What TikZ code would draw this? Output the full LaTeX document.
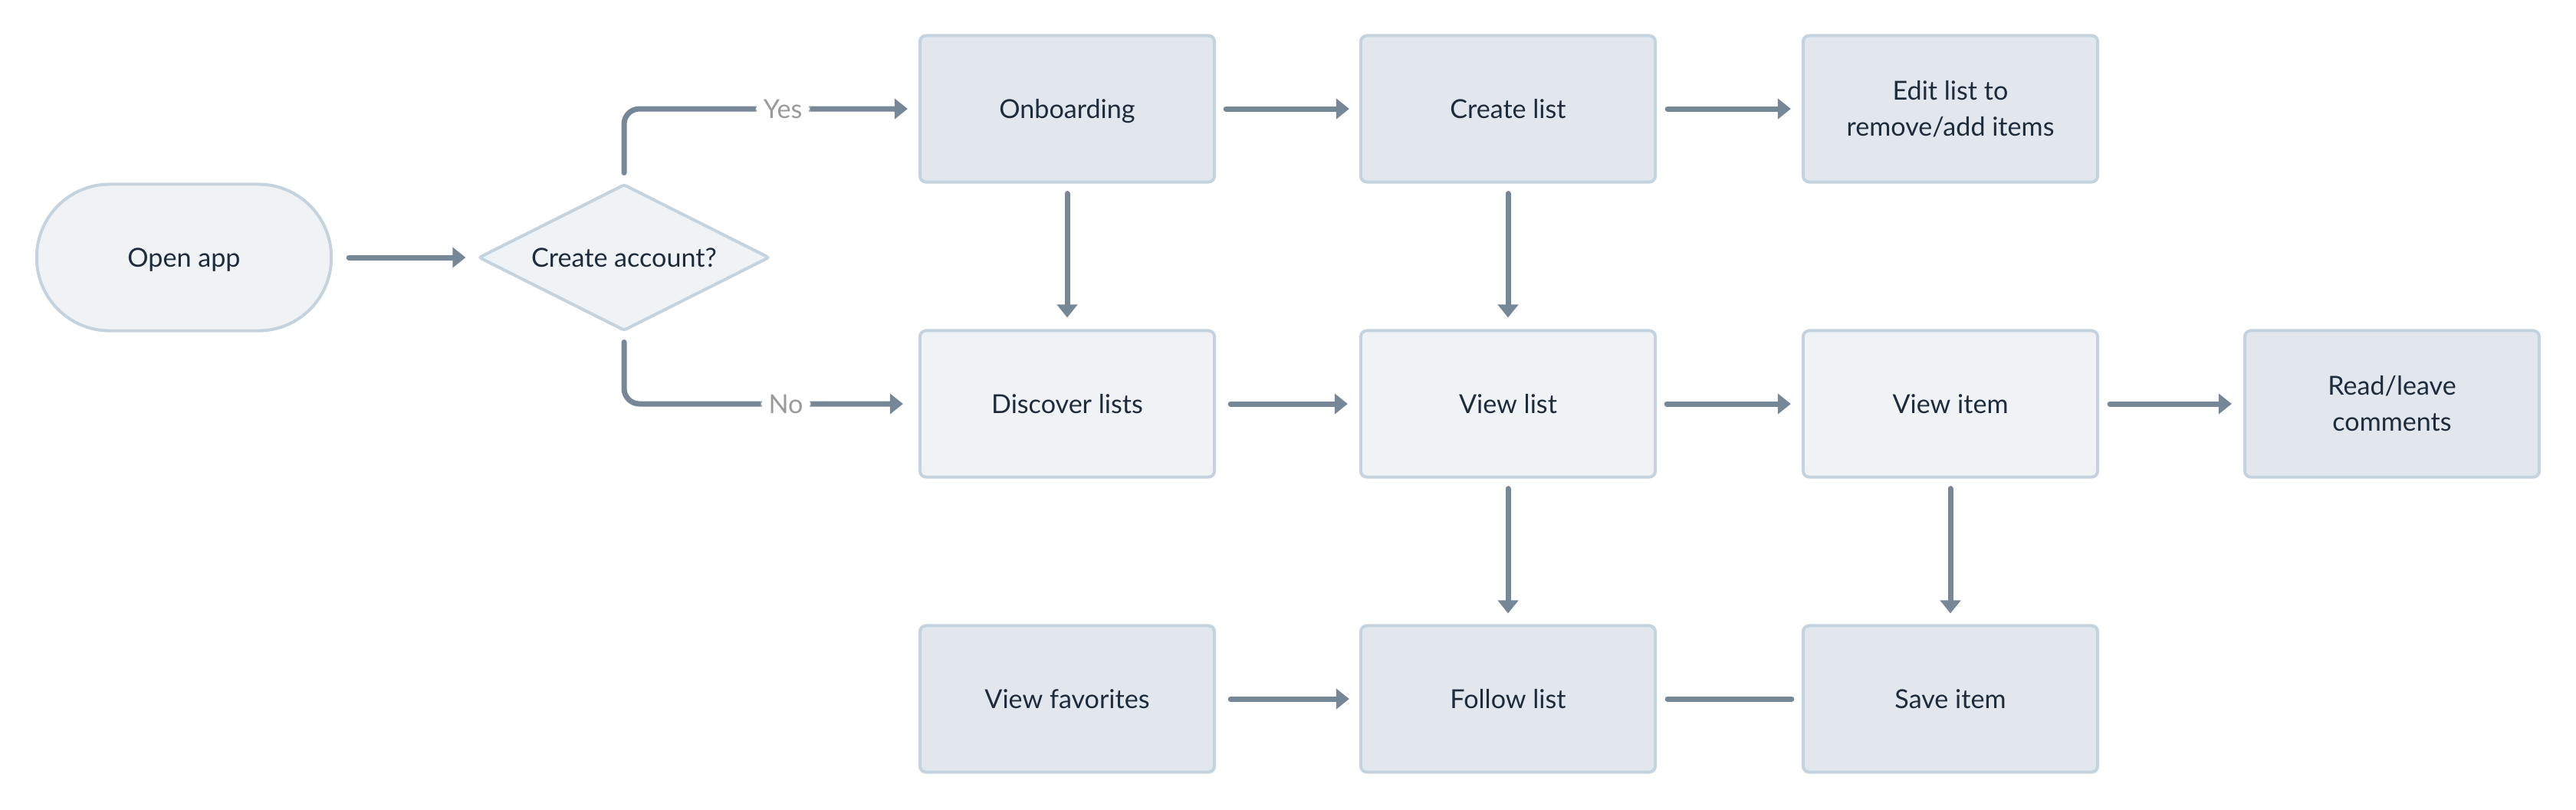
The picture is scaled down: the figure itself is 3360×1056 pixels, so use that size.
\documentclass[tikz,border=0pt]{standalone}
\usepackage{fontspec}
\setmainfont{Lato}
\usetikzlibrary{arrows.meta,shapes.geometric}
\definecolor{fillA}{HTML}{E2E7EE}
\definecolor{fillB}{HTML}{F0F3F6}
\definecolor{edgec}{HTML}{C5D3DE}
\definecolor{connc}{HTML}{768897}
\definecolor{txtc}{HTML}{1E2B3A}
\definecolor{lblc}{HTML}{9A9A9A}
\begin{document}
\begin{tikzpicture}[x=0.01cm,y=-0.01cm,
  txtfont/.style={font=\fontsize{9.7pt}{13.37pt}\selectfont, text height=0.244cm, text depth=0pt},
  box/.style={draw=edgec, line width=0.04cm, rounded corners=0.08cm, minimum width=3.84cm, minimum height=1.91cm, inner sep=0pt, align=center, text=txtc, txtfont},
  twoline/.style={text height=0.714cm, text depth=0pt},
  boxA/.style={box, fill=fillA},
  boxB/.style={box, fill=fillB},
  link/.style={draw=connc, line width=0.07cm, line cap=round},
  arr/.style={link, -{Triangle[length=0.17cm,width=0.26cm]}},
  lbl/.style={fill=white, text=lblc, inner xsep=0.1cm, inner ysep=0.04cm, txtfont},
]
\fill[white] (0,0) rectangle (3360,1056);
\useasboundingbox (0,0) rectangle (3360,1056);

\node[boxB, rounded corners=0.95cm] (open) at (240,336) {Open app};
\node[diamond, draw=edgec, fill=fillB, line width=0.04cm, minimum width=3.79cm, minimum height=1.91cm, inner sep=0pt, aspect=2, rounded corners=0.03cm, text=txtc, txtfont] (dia) at (814,336) {Create account?};

\node[boxA] (onb) at (1392,142) {Onboarding};
\node[boxA] (cl) at (1967,142) {Create list};
\node[boxA, twoline] (edit) at (2544,142) {Edit list to\\remove/add items};

\node[boxB] (disc) at (1392,527) {Discover lists};
\node[boxB] (vl) at (1967,527) {View list};
\node[boxB] (vi) at (2544,527) {View item};
\node[boxA, twoline] (rl) at (3120,527) {Read/leave\\comments};

\node[boxA] (fav) at (1392,912) {View favorites};
\node[boxA] (fl) at (1967,912) {Follow list};
\node[boxA] (save) at (2544,912) {Save item};

\draw[arr, shorten <=0.21cm, shorten >=0.15cm] (open) -- (dia);
\draw[arr, rounded corners=0.2cm] ([yshift=0.13cm]dia.north) |- node[lbl, pos=0.78] {Yes} ([xshift=-0.14cm]onb.west);
\draw[arr, rounded corners=0.2cm] ([yshift=-0.13cm]dia.south) |- node[lbl, pos=0.79] {No} ([xshift=-0.2cm]disc.west);

\draw[arr, shorten <=0.13cm, shorten >=0.13cm] (onb) -- (cl);
\draw[arr, shorten <=0.14cm, shorten >=0.14cm] (cl) -- (edit);
\draw[arr, shorten <=0.13cm, shorten >=0.15cm] (onb) -- (disc);
\draw[arr, shorten <=0.13cm, shorten >=0.15cm] (cl) -- (vl);
\draw[arr, shorten <=0.19cm, shorten >=0.15cm] (disc) -- (vl);
\draw[arr, shorten <=0.13cm, shorten >=0.14cm] (vl) -- (vi);
\draw[arr, shorten <=0.14cm, shorten >=0.15cm] (vi) -- (rl);
\draw[arr, shorten <=0.13cm, shorten >=0.14cm] (vl) -- (fl);
\draw[arr, shorten <=0.13cm, shorten >=0.14cm] (vi) -- (save);
\draw[arr, shorten <=0.19cm, shorten >=0.13cm] (fav) -- (fl);
\draw[link, shorten <=0.14cm, shorten >=0.13cm] (fl) -- (save);
\end{tikzpicture}
\end{document}
